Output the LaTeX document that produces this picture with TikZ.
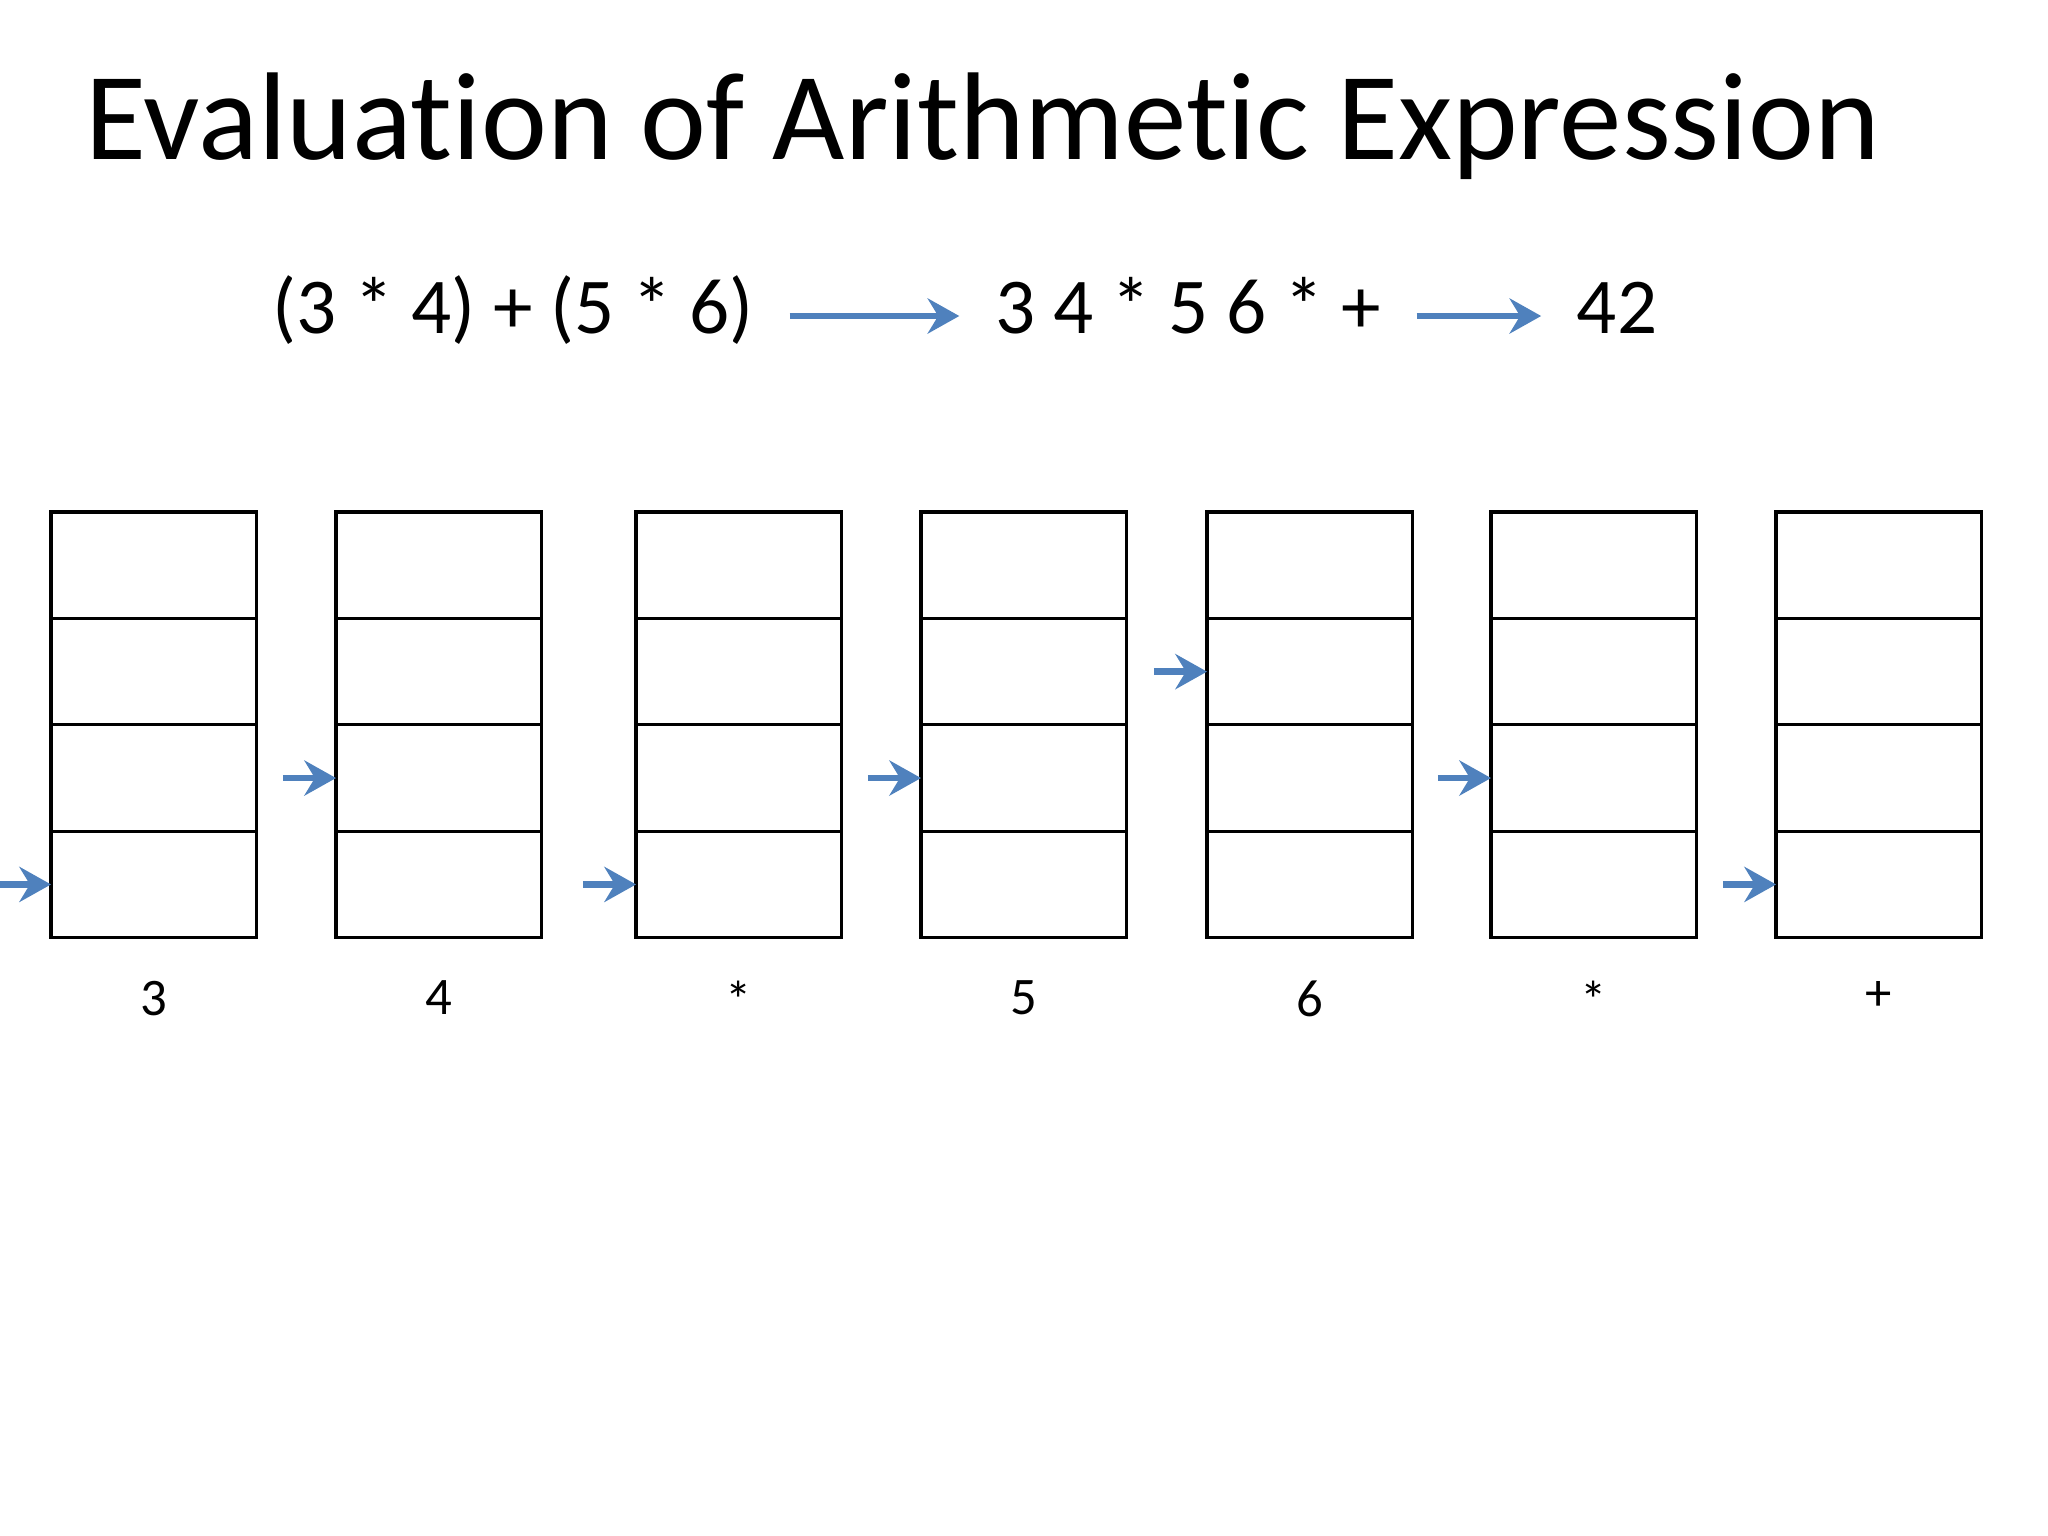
\documentclass[tikz,border=0pt]{standalone}
\usepackage{fontspec}
\setmainfont{Carlito}[Ligatures=NoCommon]
\usepackage{tikz}
\usetikzlibrary{arrows.meta, positioning}

\definecolor{arrowblue}{RGB}{79,129,189}

\begin{document}
\begin{tikzpicture}[x=0.01cm,y=-0.01cm,
                    cell/.style={draw,line width=0.9pt,minimum width=2.05cm,minimum height=1.064cm,
                                 inner sep=0pt,outer sep=0pt,anchor=north west},
                    expr/.style={font=\fontsize{22.5}{27}\selectfont,text height=1.0em,text depth=0em,
                                 inner xsep=0.35cm},
                    lbl/.style={font=\fontsize{15}{18}\selectfont},
                    ptr/.style={-{Stealth[length=9pt,width=10pt,inset=3pt]},line width=1.8pt,draw=arrowblue}]
  \useasboundingbox (0,0) rectangle (2048,1536);

  % title
  \node[anchor=base west,inner sep=0pt,font=\fontsize{35.5}{43}\selectfont] (title) at (85,159)
       {Evaluation of Arithmetic Expression};

  % infix -> postfix -> value
  \node[expr] (infix) at (513,316) {(3 * 4) + (5 * 6)};
  \node[expr] (postfix) at (1188,316) {3 4 * 5 6 * +};
  \node[expr] (result) at (1617,316) {42};
  \draw[ptr] (infix) -- (postfix);
  \draw[ptr] (postfix) -- (result);

  % one stack per symbol read, arrow marks the top
  \foreach \i/\x/\sym/\top in {1/51/3/4, 2/336/4/3, 3/636/{*}/4, 4/921/5/3,
                               5/1207/6/2, 6/1491/{*}/3, 7/1776/+/4} {
    \foreach \j in {1,...,4}
      \node[cell] (s\i-\j) at (\x,{512+(\j-1)*106.4}) {};
    \node[lbl] (l\i) [below=0.31cm of s\i-4] {\sym};
    \coordinate (p\i) at ([xshift=-0.53cm]s\i-\top.west);
    \draw[ptr] (p\i) -- (s\i-\top.west);
  }
\end{tikzpicture}
\end{document}
